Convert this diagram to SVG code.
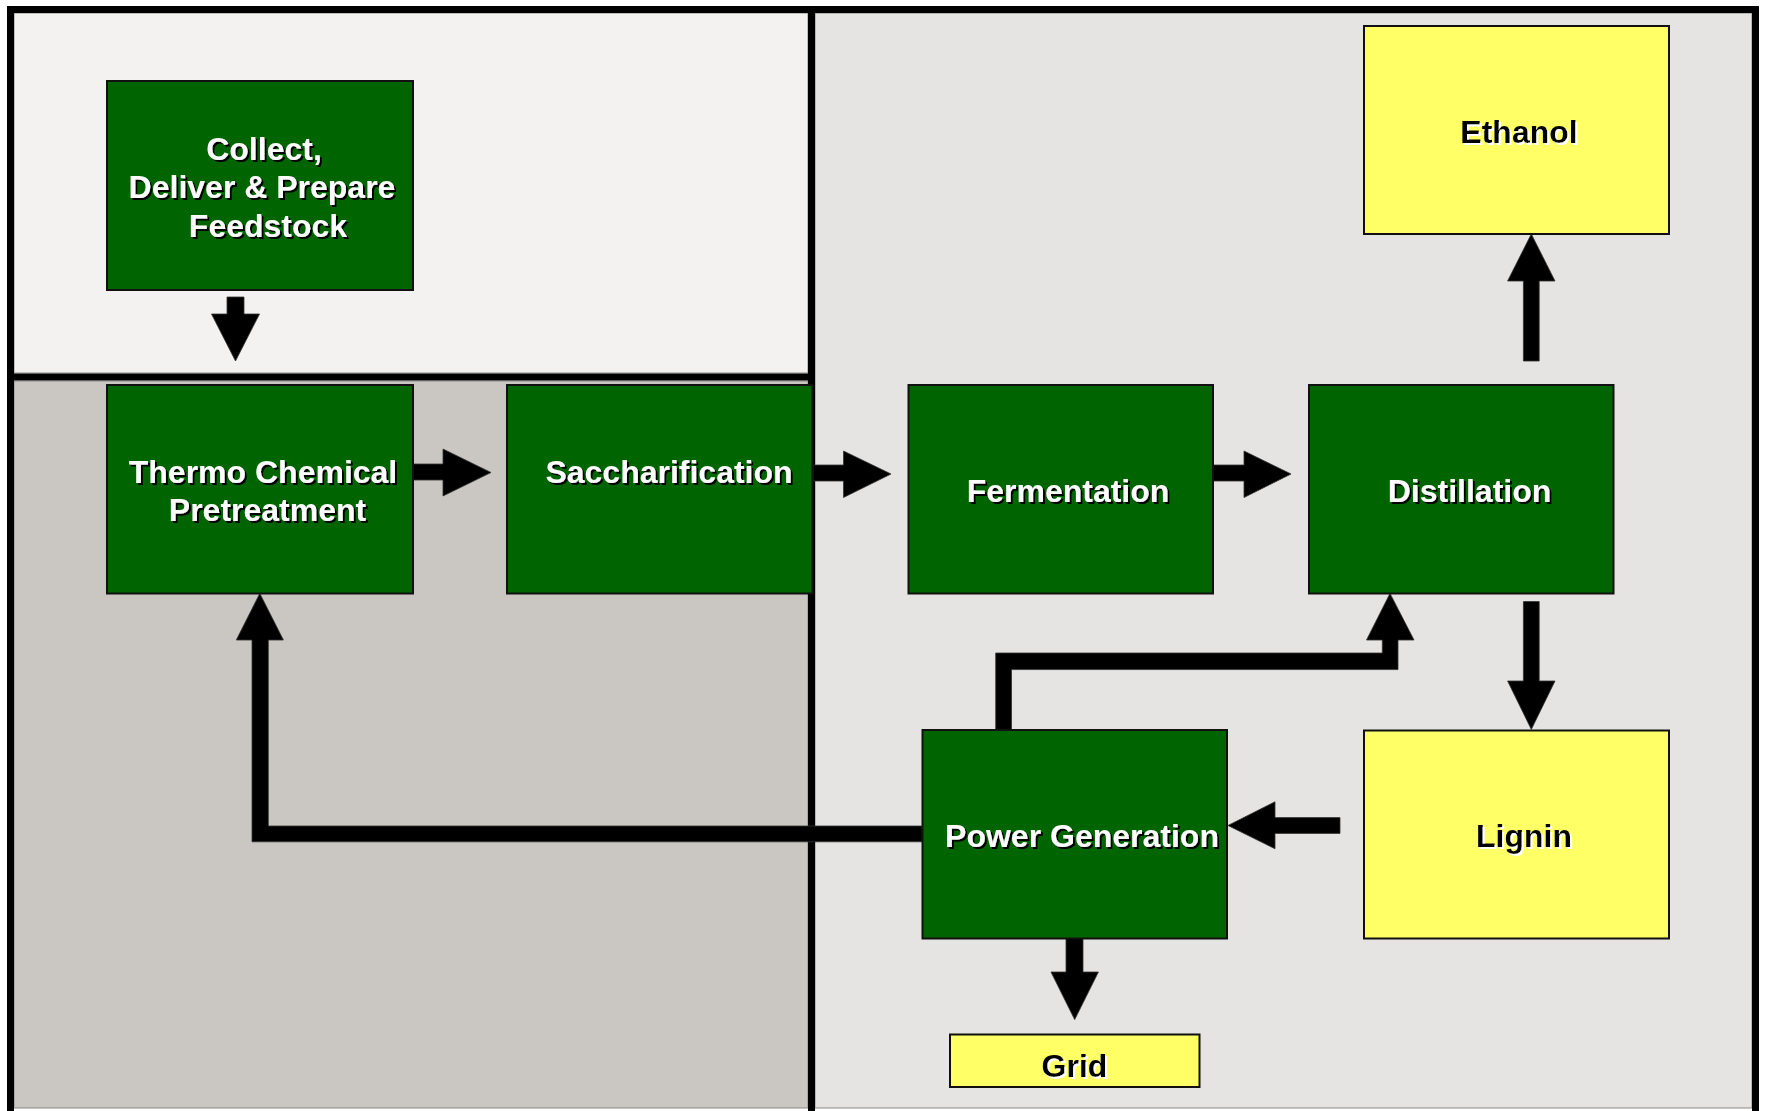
<svg xmlns="http://www.w3.org/2000/svg" width="1765" height="1111" viewBox="0 0 1765 1111">
  <defs>
    <filter id="shadowDark" x="-10%" y="-20%" width="130%" height="150%">
      <feOffset in="SourceAlpha" dx="2" dy="2" result="off"/>
      <feFlood flood-color="#000000"/>
      <feComposite in2="off" operator="in" result="sh"/>
      <feMerge><feMergeNode in="sh"/><feMergeNode in="SourceGraphic"/></feMerge>
    </filter>
    <filter id="shadowLight" x="-10%" y="-20%" width="130%" height="150%">
      <feOffset in="SourceAlpha" dx="1.5" dy="1.5" result="off"/>
      <feFlood flood-color="#ffffff"/>
      <feComposite in2="off" operator="in" result="sh"/>
      <feMerge><feMergeNode in="sh"/><feMergeNode in="SourceGraphic"/></feMerge>
    </filter>
  </defs>
  <style>
    .proc { fill: #006400; stroke: #111111; stroke-width: 2; }
    .prod { fill: #FFFF66; stroke: #111111; stroke-width: 2; }
    .wt { font-family: "Liberation Sans", Arial, sans-serif; font-weight: bold; font-size: 32px; fill: #ffffff; text-anchor: middle; filter: url(#shadowDark); }
    .bt { font-family: "Liberation Sans", Arial, sans-serif; font-weight: bold; font-size: 32px; fill: #000000; text-anchor: middle; filter: url(#shadowLight); }
    .arrow { fill: #000000; stroke: #333333; stroke-width: 0.8; stroke-linejoin: miter; }
    .divider { stroke: #000000; stroke-width: 7; fill: none; }
  </style>

  <!-- background panels -->
  <g id="panels">
    <rect x="0" y="0" width="1765" height="1111" fill="#ffffff"/>
    <rect x="14" y="13" width="794" height="360" fill="#F3F2F0" stroke="#888" stroke-width="1"/>
    <rect x="14" y="381" width="794" height="727" fill="#CAC7C2" stroke="#888" stroke-width="1"/>
    <rect x="815" y="13" width="937" height="1095" fill="#E5E4E2" stroke="#888" stroke-width="1"/>
    <rect x="10.5" y="9.5" width="1745" height="1110" class="divider"/>
    <line x1="10" y1="377" x2="811" y2="377" class="divider"/>
    <line x1="811.5" y1="9" x2="811.5" y2="1111" class="divider"/>
  </g>

  <!-- connectors -->
  <g id="connectors">
    <polygon class="arrow" points="227,297 244,297 244,314 259.5,314 235.5,361 211.5,314 227,314"/>
    <polygon class="arrow" points="413,464 443,464 443,449 491,472.5 443,496 443,480 413,480"/>
    <polygon class="arrow" points="813,465 843.5,465 843.5,451 891,474 843.5,497.5 843.5,481 813,481"/>
    <polygon class="arrow" points="1213,465 1244,465 1244,451 1291,474 1244,497.5 1244,481 1213,481"/>
    <polygon class="arrow" points="1523.4,361 1523.4,281 1507.6,281 1531.3,234 1555,281 1539.2,281 1539.2,361"/>
    <polygon class="arrow" points="1523.4,601.5 1539.2,601.5 1539.2,681 1555,681 1531.3,729.4 1507.6,681 1523.4,681"/>
    <polygon class="arrow" points="1340,817.6 1275,817.6 1275,801.8 1228,825.5 1275,848.8 1275,833.4 1340,833.4"/>
    <polygon class="arrow" points="1066,938.5 1083,938.5 1083,972 1098.4,972 1074.7,1019.6 1051,972 1066,972"/>
    <polygon class="arrow" points="995.7,729.7 995.7,653 1382.3,653 1382.3,640 1366.5,640 1390,593.4 1414,640 1398,640 1398,669.6 1011.5,669.6 1011.5,729.7"/>
    <polygon class="arrow" points="922.3,826 268.3,826 268.3,640 283.4,640 259.8,593.4 236.3,640 252,640 252,841.8 922.3,841.8"/>
  </g>

  <g id="collect">
    <rect class="proc" x="107" y="81" width="306" height="209"/>
    <text class="wt" x="264" y="160">Collect,</text>
    <text class="wt" x="262" y="198">Deliver &amp; Prepare</text>
    <text class="wt" x="268" y="236.5">Feedstock</text>
  </g>

  <g id="thermo">
    <rect class="proc" x="107" y="385" width="306" height="208.5"/>
    <text class="wt" x="263" y="483">Thermo Chemical</text>
    <text class="wt" x="267.5" y="521">Pretreatment</text>
  </g>

  <g id="saccharification">
    <rect class="proc" x="507" y="385" width="305.5" height="208.5"/>
    <text class="wt" x="669" y="483">Saccharification</text>
  </g>

  <g id="fermentation">
    <rect class="proc" x="908.5" y="385" width="304.5" height="208.5"/>
    <text class="wt" x="1068" y="502">Fermentation</text>
  </g>

  <g id="distillation">
    <rect class="proc" x="1309" y="385" width="304.5" height="208.5"/>
    <text class="wt" x="1469.5" y="502">Distillation</text>
  </g>

  <g id="ethanol">
    <rect class="prod" x="1364" y="26" width="305" height="208"/>
    <text class="bt" x="1519" y="143">Ethanol</text>
  </g>

  <g id="lignin">
    <rect class="prod" x="1364" y="730.5" width="305" height="208"/>
    <text class="bt" x="1524" y="846.5">Lignin</text>
  </g>

  <g id="power">
    <rect class="proc" x="922.5" y="730" width="304.5" height="208.5"/>
    <text class="wt" x="1082" y="846.5">Power Generation</text>
  </g>

  <g id="grid">
    <rect class="prod" x="950" y="1034.5" width="249.5" height="52.5"/>
    <text class="bt" x="1074.5" y="1076.5">Grid</text>
  </g>
</svg>
